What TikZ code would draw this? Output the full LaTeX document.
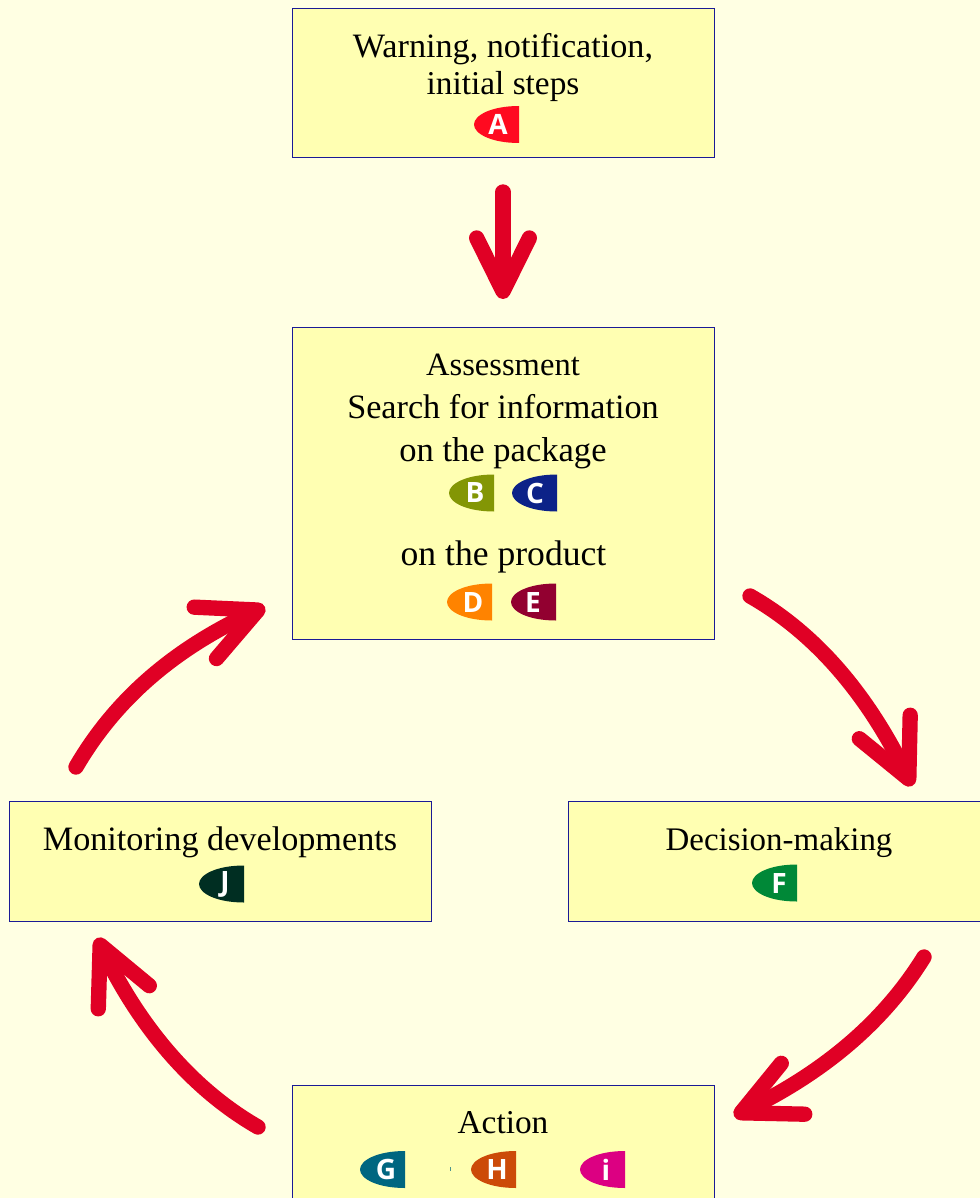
\documentclass[tikz,border=0pt]{standalone}
\usepackage{fontspec}
\setmainfont{Liberation Serif}
\newfontfamily\badgefont{Open Sans}[Scale=1]
\usetikzlibrary{arrows.meta,bending}
\definecolor{pagebg}{HTML}{FFFFE3}
\definecolor{boxfill}{HTML}{FFFFB2}
\definecolor{boxline}{HTML}{1A1A96}
\definecolor{flowred}{HTML}{E00025}
\definecolor{cA}{HTML}{FF0A20}
\definecolor{cB}{HTML}{839605}
\definecolor{cC}{HTML}{0C2288}
\definecolor{cD}{HTML}{FF8300}
\definecolor{cE}{HTML}{920030}
\definecolor{cF}{HTML}{008837}
\definecolor{cG}{HTML}{006680}
\definecolor{cH}{HTML}{CC4A08}
\definecolor{cI}{HTML}{DC0082}
\definecolor{cJ}{HTML}{002E22}
\tikzset{
  stagebox/.style={draw=boxline,line width=0.7pt,fill=boxfill,inner sep=0pt,outer sep=0pt,anchor=north west},
  label text/.style={anchor=base,font=\fontsize{#1}{#1}\selectfont,text=black,inner sep=0pt},
  label text/.default=25.65pt,
  badge letter/.style={anchor=center,inner sep=0pt,text=white,font=\badgefont\bfseries\fontsize{21pt}{21pt}\selectfont},
  flow/.style={draw=flowred,line width=11.5pt,line cap=round,line join=round},
  flow tip/.style={flow,-{Straight Barb[round,length=40pt,width=39.5pt,line width=11.5pt,flex]}},
  flow tip big/.style={flow,-{Straight Barb[round,length=43pt,width=42pt,line width=11.5pt,flex]}},
}
% name, left x, top y, colour, letter, letter x
\newcommand{\tabbadge}[6]{%
  \fill[#4] (#2+45,#3) .. controls (#2+18,#3) and (#2,#3+9) .. (#2,#3+18.5)
     .. controls (#2,#3+28) and (#2+18,#3+37) .. (#2+45,#3+37) -- cycle;
  \node[badge letter] (#1) at (#6,#3+18.5) {#5};
}
\begin{document}
\begin{tikzpicture}[x=0.75pt,y=-0.75pt]
\useasboundingbox (0,0) rectangle (980,1198);
\clip (0,0) rectangle (980,1198);
\fill[pagebg] (0,0) rectangle (980,1198);
% boxes
\node[stagebox,minimum width=316.5pt,minimum height=112pt] (warn) at (292.5,8.5) {};
\node[stagebox,minimum width=316.5pt,minimum height=234pt] (assess) at (292.5,327) {};
\node[stagebox,minimum width=316.5pt,minimum height=90pt] (monitor) at (9,801) {};
\node[stagebox,minimum width=330pt,minimum height=90pt] (decide) at (568,801) {};
\node[stagebox,minimum width=316.5pt,minimum height=100pt] (act) at (292.5,1085) {};
% texts
\node[label text] (t1) at (503,58) {Warning, notification,};
\node[label text=25pt] (t2) at (503,95) {initial steps};
\node[label text=24.4pt] (t3) at (503,375) {Assessment};
\node[label text] (t4) at (503,418) {Search for information};
\node[label text=25.9pt] (t5) at (503,461) {on the package};
\node[label text=26.7pt] (t6) at (503.5,565) {on the product};
\node[label text] (t7) at (220,850) {Monitoring developments};
\node[label text=24.7pt] (t8) at (779,850) {Decision-making};
\node[label text=25pt] (t9) at (503,1133) {Action};
% badges
\tabbadge{bA}{474}{106}{cA}{A}{498}
\tabbadge{bB}{449}{474.5}{cB}{B}{475}
\tabbadge{bC}{512}{474.5}{cC}{C}{535}
\tabbadge{bD}{447}{583.5}{cD}{D}{473}
\tabbadge{bE}{511}{583.5}{cE}{E}{533}
\tabbadge{bJ}{199}{865.5}{cJ}{J}{225}
\tabbadge{bF}{752}{864.5}{cF}{F}{779}
\tabbadge{bG}{360}{1151}{cG}{G}{386}
\tabbadge{bH}{471}{1151}{cH}{H}{497}
\tabbadge{bI}{580}{1151}{cI}{i}{606}
\fill[cG!70!boxfill] (449.8,1167) rectangle (450.8,1171);
% connector ends
\coordinate (a1) at (503,192);
\coordinate (a2) at (503,299);
\coordinate (b1) at (750,596);
\coordinate (b2) at (912,786);
\coordinate (c1) at (924,957);
\coordinate (c2) at (734,1116);
\coordinate (d1) at (258,1127);
\coordinate (d2) at (97,938);
\coordinate (e1) at (76,767);
\coordinate (e2) at (265,607);
\draw[flow tip] (a1) -- (a2);
\draw[flow tip big] (b1) .. controls (815,633) and (870,695) .. (b2);
\draw[flow tip big] (c1) .. controls (885,1020) and (825,1074) .. (c2);
\draw[flow tip big] (d1) .. controls (190,1088) and (135,1022) .. (d2);
\draw[flow tip big] (e1) .. controls (115,700) and (175,646) .. (e2);
\end{tikzpicture}
\end{document}
